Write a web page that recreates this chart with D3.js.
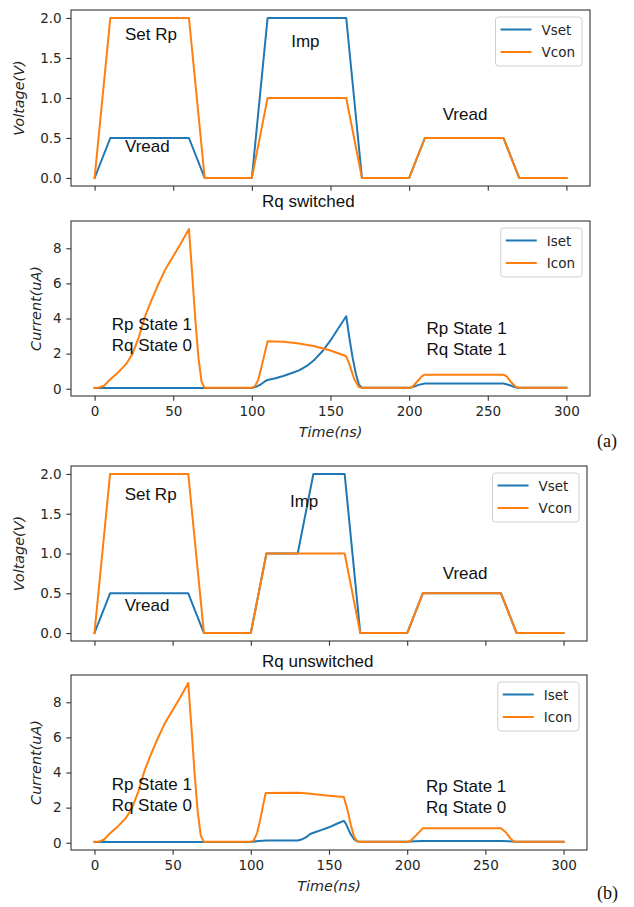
<!DOCTYPE html>
<html>
<head>
<meta charset="utf-8">
<script src="https://cdnjs.cloudflare.com/ajax/libs/d3/7.8.5/d3.min.js"></script>
<style>
    body{margin:0;background:#fff;}
    svg{display:block;}
</style>
</head>
<body>
<svg id="vis" width="634" height="907"></svg>
<script>
/**
 * Data
 */
var timeTicks = [0, 50, 100, 150, 200, 250, 300];
var voltTicks = [0, 0.5, 1.0, 1.5, 2.0];
var currTicks = [0, 2, 4, 6, 8];

var voltLabels = ["Vset", "Vcon"];
var currLabels = ["Iset", "Icon"];
var panelTitles = ["Rq switched", "Rq unswitched"];
var figTags = ["(a)", "(b)"];

// (a) voltages
var tVsetA = [0, 10, 60, 70, 100, 110, 160, 170, 200, 210, 260, 270, 300];
var vVsetA = [0, 0.5, 0.5, 0, 0, 2.0, 2.0, 0, 0, 0.5, 0.5, 0, 0];
var tVconA = [0, 10, 60, 70, 100, 110, 160, 170, 200, 210, 260, 270, 300];
var vVconA = [0, 2.0, 2.0, 0, 0, 1.0, 1.0, 0, 0, 0.5, 0.5, 0, 0];

// (a) currents
var tIsetA = [0, 100, 103, 106, 108, 110, 115, 120, 125, 130, 135, 140, 145, 150, 155, 160, 162, 164, 166, 168, 170, 200, 202, 206, 210, 260, 264, 268, 270, 300];
var vIsetA = [0.04, 0.04, 0.12, 0.27, 0.4, 0.5, 0.6, 0.73, 0.88, 1.05, 1.3, 1.67, 2.15, 2.75, 3.45, 4.13, 2.9, 1.8, 0.9, 0.25, 0.05, 0.05, 0.08, 0.22, 0.3, 0.3, 0.2, 0.07, 0.05, 0.05];
var tIconA = [0, 3, 6, 9, 12, 15, 20, 24, 28, 32, 36, 40, 45, 50, 55, 60, 62, 64, 66, 68, 70, 100, 102, 104, 106, 108, 110, 120, 130, 140, 150, 160, 162, 165, 168, 170, 200, 202, 205, 208, 210, 260, 262, 265, 268, 270, 300];
var vIconA = [0.05, 0.07, 0.17, 0.45, 0.7, 0.93, 1.4, 1.97, 2.9, 4.1, 5.0, 5.85, 6.8, 7.55, 8.3, 9.1, 6.6, 4.0, 1.8, 0.4, 0.05, 0.05, 0.15, 0.5, 1.2, 1.95, 2.7, 2.67, 2.58, 2.42, 2.18, 1.85, 1.4, 0.57, 0.1, 0.05, 0.05, 0.1, 0.4, 0.7, 0.8, 0.8, 0.7, 0.35, 0.1, 0.05, 0.05];

// (b) voltages
var tVsetB = [0, 10, 60, 70, 100, 110, 130, 140, 160, 170, 200, 210, 260, 270, 300];
var vVsetB = [0, 0.5, 0.5, 0, 0, 1.0, 1.0, 2.0, 2.0, 0, 0, 0.5, 0.5, 0, 0];
var tVconB = [0, 10, 60, 70, 100, 110, 160, 170, 200, 210, 260, 270, 300];
var vVconB = [0, 2.0, 2.0, 0, 0, 1.0, 1.0, 0, 0, 0.5, 0.5, 0, 0];

// (b) currents
var tIsetB = [0, 100, 105, 110, 130, 133, 136, 138, 141, 145, 150, 155, 159.5, 161, 163.5, 166, 168, 170, 200, 205, 210, 260, 265, 270, 300];
var vIsetB = [0.04, 0.04, 0.1, 0.13, 0.13, 0.2, 0.35, 0.5, 0.6, 0.72, 0.88, 1.08, 1.25, 1.05, 0.55, 0.2, 0.08, 0.05, 0.05, 0.08, 0.1, 0.1, 0.08, 0.05, 0.05];
var tIconB = [0, 3, 6, 9, 12, 15, 20, 24, 28, 32, 36, 40, 45, 50, 55, 60, 62, 64, 66, 68, 70, 100, 102, 104, 106, 108, 109.5, 130, 135, 141, 150, 159.5, 162, 164, 166, 168, 170, 200, 202, 206, 210, 260, 263, 266, 268, 270, 300];
var vIconB = [0.05, 0.07, 0.17, 0.45, 0.7, 0.93, 1.4, 1.97, 2.9, 4.1, 5.0, 5.85, 6.8, 7.55, 8.3, 9.1, 6.6, 4.0, 1.8, 0.4, 0.05, 0.05, 0.15, 0.55, 1.3, 2.2, 2.83, 2.85, 2.82, 2.76, 2.68, 2.6, 1.8, 1.0, 0.35, 0.08, 0.05, 0.05, 0.1, 0.45, 0.82, 0.82, 0.6, 0.25, 0.08, 0.05, 0.05];

var BLUE = "#1f77b4";
var ORANGE = "#ff7f0e";
var TICKFONT = "'DejaVu Sans', sans-serif";
var NOTEFONT = "'Liberation Sans', Arial, sans-serif";

// panel layout (frame boxes in px, text notes in data coords of the first baseline)
var panels = [
    {left:71, right:590, top:10, bottom:186, kind:"V", xlabels:false,
        series:[[tVsetA, vVsetA, BLUE], [tVconA, vVconA, ORANGE]], legend:voltLabels,
        notes:[["Set Rp", 19.3, 1.725], ["Vread", 19.3, 0.33], ["Imp", 125, 1.64], ["Vread", 221.3, 0.725]]},
    {left:71, right:590, top:221, bottom:396, kind:"I", xlabels:true,
        series:[[tIsetA, vIsetA, BLUE], [tIconA, vIconA, ORANGE]], legend:currLabels,
        notes:[["Rp State 1\nRq State 0", 10.9, 3.32], ["Rp State 1\nRq State 1", 211, 3.13]],
        title:[panelTitles[0], 262, 207], tag:[figTags[0], 597, 447]},
    {left:71, right:587, top:466, bottom:641, kind:"V", xlabels:false,
        series:[[tVsetB, vVsetB, BLUE], [tVconB, vVconB, ORANGE]], legend:voltLabels,
        notes:[["Set Rp", 19.3, 1.67], ["Vread", 19.3, 0.277], ["Imp", 125, 1.59], ["Vread", 222.7, 0.675]]},
    {left:71, right:587, top:675, bottom:850, kind:"I", xlabels:true,
        series:[[tIsetB, vIsetB, BLUE], [tIconB, vIconB, ORANGE]], legend:currLabels,
        notes:[["Rp State 1\nRq State 0", 11, 3.01], ["Rp State 1\nRq State 0", 212, 2.88]],
        title:[panelTitles[1], 262, 667], tag:[figTags[1], 597, 899]}
];

var svg = d3.select("#vis");

// matplotlib-like 5% margins
function padded(ext){
    var m = (ext[1] - ext[0]) * 0.05;
    return [ext[0] - m, ext[1] + m];
}

function drawPanel(p){
    var allT = [], allV = [];
    p.series.forEach(function(s){ allT = allT.concat(s[0]); allV = allV.concat(s[1]); });

    var x = d3.scaleLinear().domain(padded(d3.extent(allT))).range([p.left, p.right]);
    var y = d3.scaleLinear().domain(padded(d3.extent(allV))).range([p.bottom, p.top]);

    var g = svg.append("g");

    // lines
    var line = d3.line().x(function(d){ return x(d[0]); }).y(function(d){ return y(d[1]); });
    p.series.forEach(function(s){
        g.append("path")
            .datum(d3.zip(s[0], s[1]))
            .attr("d", line)
            .attr("fill", "none")
            .attr("stroke", s[2])
            .attr("stroke-width", 2)
            .attr("stroke-linejoin", "round")
            .attr("stroke-linecap", "square");
    });

    // frame
    g.append("rect")
        .attr("x", p.left).attr("y", p.top)
        .attr("width", p.right - p.left).attr("height", p.bottom - p.top)
        .attr("fill", "none").attr("stroke", "#333").attr("stroke-width", 1.1);

    // axes
    var xAxis = d3.axisBottom(x).tickValues(timeTicks).tickSize(4.7).tickPadding(6)
        .tickFormat(p.xlabels ? d3.format("d") : "");
    var xg = g.append("g").attr("transform", "translate(0," + p.bottom + ")").call(xAxis);

    var yAxis = d3.axisLeft(y).tickValues(p.kind == "V" ? voltTicks : currTicks)
        .tickSize(4.7).tickPadding(4.7)
        .tickFormat(p.kind == "V" ? d3.format(".1f") : d3.format("d"));
    var yg = g.append("g").attr("transform", "translate(" + p.left + ",0)").call(yAxis);

    [xg, yg].forEach(function(a){
        a.select(".domain").remove();
        a.selectAll(".tick line").attr("stroke", "#333").attr("stroke-width", 1.1);
        a.selectAll(".tick text").attr("fill", "#262626")
            .style("font-family", TICKFONT).style("font-size", "13.5px");
    });

    // y label
    var cy = (p.top + p.bottom) / 2;
    var lx = p.kind == "V" ? 23.5 : 40.5;
    g.append("text")
        .attr("transform", "translate(" + lx + "," + cy + ") rotate(-90)")
        .attr("text-anchor", "middle")
        .style("font-family", TICKFONT).style("font-style", "italic").style("font-size", "14.4px")
        .attr("fill", "#262626")
        .text(p.kind == "V" ? "Voltage(V)" : "Current(uA)");

    // x label
    if(p.xlabels){
        g.append("text")
            .attr("x", (p.left + p.right) / 2).attr("y", p.bottom + 41)
            .attr("text-anchor", "middle")
            .style("font-family", TICKFONT).style("font-style", "italic").style("font-size", "14.4px")
            .attr("fill", "#262626")
            .text("Time(ns)");
    }

    // notes
    p.notes.forEach(function(n){
        var t = g.append("text")
            .attr("x", x(n[1])).attr("y", y(n[2]))
            .style("font-family", NOTEFONT).style("font-size", "17px")
            .attr("fill", "#111");
        n[0].split("\n").forEach(function(s, i){
            t.append("tspan").attr("x", x(n[1])).attr("dy", i == 0 ? 0 : "1.22em").text(s);
        });
    });

    // legend
    var leg = g.append("g");
    var box = leg.append("rect")
        .attr("rx", 3).attr("ry", 3)
        .attr("fill", "#fff").attr("fill-opacity", 0.8)
        .attr("stroke", "#d0d0d0").attr("stroke-width", 1);
    var maxW = 0;
    var texts = p.legend.map(function(lbl, i){
        var tt = leg.append("text")
            .style("font-family", TICKFONT).style("font-size", "13.5px")
            .attr("fill", "#262626").text(lbl);
        maxW = Math.max(maxW, tt.node().getComputedTextLength());
        return tt;
    });
    var bw = 46 + maxW + 7;
    var bx = p.right - 8 - bw;
    var by = p.top + 7;
    box.attr("x", bx).attr("y", by).attr("width", bw).attr("height", 49);
    p.legend.forEach(function(lbl, i){
        var ly = by + 12.5 + i * 22.5;
        leg.append("line")
            .attr("x1", bx + 5).attr("x2", bx + 36)
            .attr("y1", ly).attr("y2", ly)
            .attr("stroke", p.series[i][2]).attr("stroke-width", 2);
        texts[i].attr("x", bx + 46).attr("y", ly + 5);
    });

    if(p.title){
        g.append("text")
            .attr("x", p.title[1]).attr("y", p.title[2])
            .style("font-family", NOTEFONT).style("font-size", "17px")
            .attr("fill", "#111").text(p.title[0]);
    }
    if(p.tag){
        g.append("text")
            .attr("x", p.tag[1]).attr("y", p.tag[2])
            .style("font-family", "'Liberation Serif', 'Times New Roman', serif").style("font-size", "18px")
            .attr("fill", "#111").text(p.tag[0]);
    }
}

panels.forEach(drawPanel);
</script>
</body>
</html>
